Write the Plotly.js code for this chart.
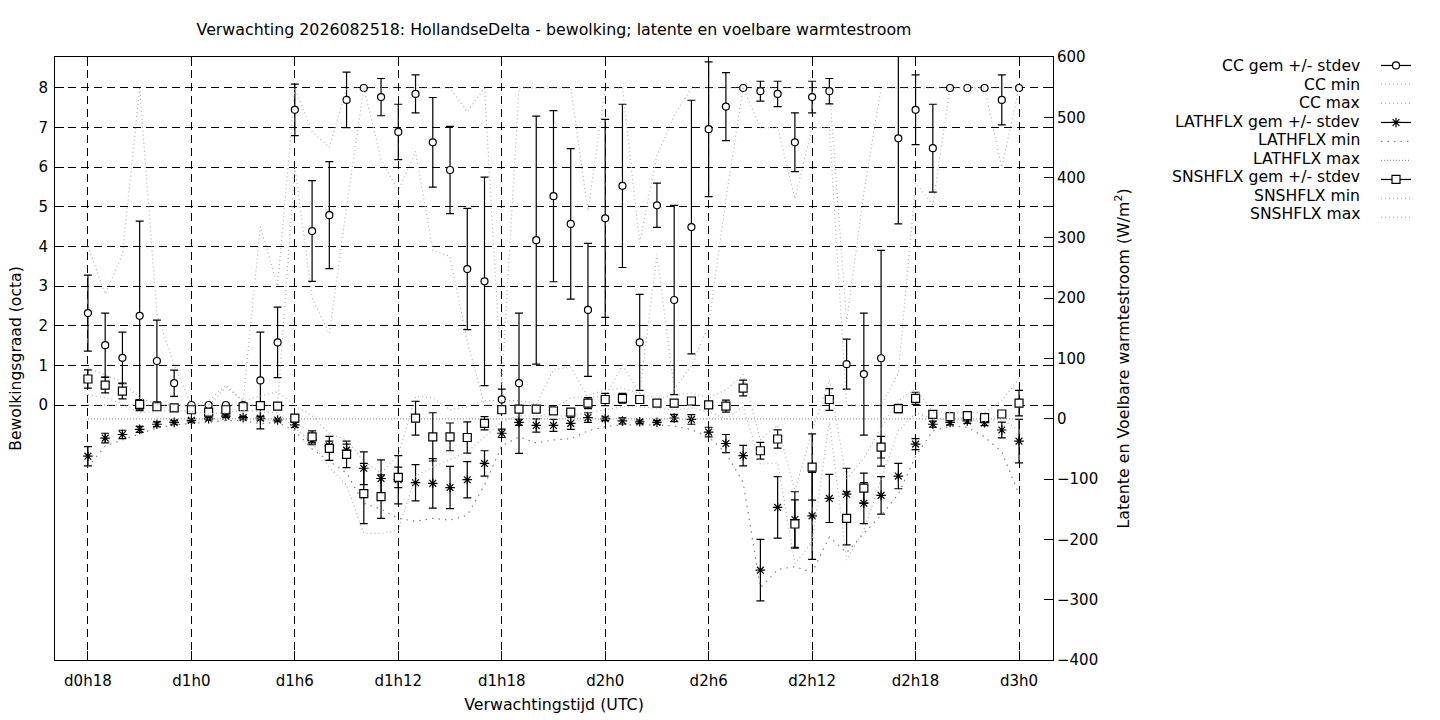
<!DOCTYPE html>
<html>
<head>
<meta charset="utf-8">
<script src="https://cdn.plot.ly/plotly-3.0.1.min.js"></script>
<style>
  html, body { margin: 0; padding: 0; background: #fff; }
  #chart { width: 1440px; height: 720px; }
</style>
</head>
<body>
<div id="chart"></div>
<script>
// forecast hours (d0h18 .. d3h0)
const hours = [18,19,20,21,22,23,24,25,26,27,28,29,30,31,32,33,34,35,36,37,38,39,40,41,42,43,44,45,
  46,47,48,49,50,51,52,53,54,55,56,57,58,59,60,61,62,63,64,65,66,67,68,69,70,71,72];
const xTicks = [18,24,30,36,42,48,54,60,66,72];
const xTickText = ['d0h18','d1h0','d1h6','d1h12','d1h18','d2h0','d2h6','d2h12','d2h18','d3h0'];
const ccTicks = [0,1,2,3,4,5,6,7,8];
const fluxTicks = [-400,-300,-200,-100,0,100,200,300,400,500,600];

// bewolking (octa)
const ccMean = [2.32,1.51,1.19,2.25,1.11,0.55,0,0,0,0,0.62,1.58,
  7.45,4.39,4.79,7.70,8.00,7.77,6.89,7.85,6.63,5.93,3.43,3.12,
  0.14,0.55,4.16,5.27,4.57,2.40,4.71,5.53,1.58,5.04,2.65,4.49,
  6.96,7.53,8.00,7.92,7.85,6.63,7.77,7.92,1.03,0.78,1.18,6.73,
  7.45,6.48,8.00,8.00,8.00,7.70,8.00];
const ccSd = [0.96,0.81,0.65,2.39,1.03,0.33,0,0,0,0,1.22,0.89,
  0.65,1.27,1.35,0.70,0,0.47,0.70,0.48,1.13,1.10,1.53,2.63,
  0.26,1.77,3.13,2.16,1.90,1.68,2.50,2.06,1.21,0.56,2.39,3.20,
  1.70,0.86,0,0.25,0.32,0.74,0.40,0.32,0.63,1.54,2.72,2.16,
  0.88,1.11,0,0,0,0.63,0];
const ccMin = [0,0,0,0,0,0,0,0,0,0,0,0,
  6.0,2.7,1.8,5.0,8,6.2,5.4,6.4,3.9,3.75,1.6,0,
  0,0,0,0.9,0.95,0.2,0.2,1.0,0.3,3.8,0.4,1.0,
  2.0,5.2,8,7.0,7.0,5.2,7.0,7.0,0,0,0,0.8,
  5.6,5.05,8,8,8,6.0,8];
const ccMax = [4.0,2.8,3.8,8,2.3,1.0,0,0.1,0.5,0.1,4.5,3.0,
  8,6.9,6.5,8,8,8,8,8,8,8,7.4,8,
  0.5,8,8,8,8,4.9,8,8,4.1,6.3,7.3,8,
  8,8,8,8,8,8,8,8,2.1,5.35,8,8,
  8,8,8,8,8,8,8];

// latente warmtestroom (W/m2)
const latMean = [-62,-32,-26,-17.5,-9,-6,-2.5,0,4.5,2,1,-2,
  -10,-35,-45,-52,-82,-99,-101,-106,-107,-114,-101,-74,
  -24,-6,-11,-11,-7.5,2,0,-3.6,-5,-6,1.3,-1,
  -22,-41,-61,-251,-147,-167,-161,-132,-125,-140,-127,-95,
  -42,-9,-6,-3.6,-6.4,-18.6,-37];
const latSd = [16,8,7,5,4,3,3,2,2,2,3,2,
  4,8,8,10,27,31,40,30,41,35,30,21,
  7,5,11,10,10,8,3,5,3,3,6,8,
  8,15,17,51,51,46,72,40,43,34,31,21,
  9,5,4,4,5,13,36];
const latMin = [-80,-45,-35,-25,-15,-10,-8,-5,-3,-3,-8,-6,
  -20,-50,-70,-90,-140,-150,-165,-170,-165,-168,-160,-110,
  -45,-30,-40,-35,-33,-20,-13,-10,-10,-10,-12,-18,
  -30,-57,-105,-280,-250,-245,-255,-196,-222,-190,-160,-125,
  -62,-20,-12,-14,-30,-55,-125];
const latMax = [0,0,0,0,0,0,0,0,0,0,0,0,
  0,0,0,0,0,0,0,0,0,0,0,0,
  0,0,0,0,0,0,0,0,0,0,0,0,
  0,0,0,0,0,0,0,0,0,0,0,0,
  0,0,0,0,0,0,0];

// voelbare warmtestroom (W/m2)
const snsMean = [66,56,46,24,20,18,15,11,15,20,22,21,
  1,-30,-49,-59,-124,-129,-97,1,-30,-30,-31,-7.5,
  15,16,16,13,11,26,32,34,32,26,26,29.5,
  23,21,51,-53,-33.5,-174.5,-80,32,-165,-115,-47,17,
  34,7.4,3.5,5.2,2,8,26];
const snsSd = [15,13,13,8,4,2,2,2,3,3,5,5,
  5,10,20,22,50,36,17,28,40,23,26,11,
  5,5,5,3,3,9,10,8,6,3,6,5,
  5,10,13,14,15,40,55,18,44,25,18,7,
  10,3,3,3,5,3,21];
const snsMin = [40,35,25,10,12,14,12,8,10,14,12,10,
  -15,-40,-80,-110,-190,-190,-185,-95,-80,-68,-55,-30,
  -5,5,5,5,5,10,15,20,20,18,15,18,
  12,0,20,-75,-73,-240,-205,-5,-234,-185,-100,-20,
  10,0,-2,-2,-5,0,-20];
const snsMax = [85,72,62,34,25,22,20,22,52,30,38,45,
  22,5,-25,-35,-70,-90,-60,37,35,15,20,30,
  30,30,25,18,34,39,48,51,42,34,39,43,
  35,48,73,-35,-10,-120,-20,64,-100,-65,-15,30,
  50,12,10,10,10,30,67];

const legendText = ['CC gem +/- stdev','CC min','CC max',
  'LATHFLX gem +/- stdev','LATHFLX min','LATHFLX max',
  'SNSHFLX gem +/- stdev','SNSHFLX min','SNSHFLX max'];

const dotGrey = '#b0b0b0';
const errBar = {type: 'data', color: 'black', thickness: 1.2, width: 4};

function meanTrace(y, sd, axis, symbol, size, fill) {
  return {
    x: hours, y: y, yaxis: axis, type: 'scatter', mode: 'markers', showlegend: false,
    marker: {symbol: symbol, size: size, color: fill, line: {color: 'black', width: 1.2}},
    error_y: Object.assign({array: sd}, errBar)
  };
}
function keyTrace(symbol, size, fill) {
  // legend sample only, no data
  return {
    x: [null], y: [null], type: 'scatter', mode: 'lines+markers', name: ' ',
    line: {color: 'black', width: 1.2},
    marker: {symbol: symbol, size: size, color: fill, line: {color: 'black', width: 1.2}}
  };
}
function rangeTrace(y, axis, color, dash) {
  return {
    x: hours, y: y, yaxis: axis, type: 'scatter', mode: 'lines', name: ' ',
    line: {color: color, width: 1.2, dash: dash}
  };
}

const data = [
  meanTrace(ccMean, ccSd, 'y', 'circle', 7, 'white'),
  keyTrace('circle', 7, 'white'),
  rangeTrace(ccMin, 'y', dotGrey, '1px,3px'),
  rangeTrace(ccMax, 'y', dotGrey, '1px,3px'),
  meanTrace(latMean, latSd, 'y2', 'asterisk-open', 8, 'black'),
  keyTrace('asterisk-open', 8, 'black'),
  rangeTrace(latMin, 'y2', '#808080', '1.5px,5px'),
  rangeTrace(latMax, 'y2', '#999999', '1px,2px'),
  meanTrace(snsMean, snsSd, 'y2', 'square', 8, 'white'),
  keyTrace('square', 8, 'white'),
  rangeTrace(snsMin, 'y2', dotGrey, '1px,3px'),
  rangeTrace(snsMax, 'y2', dotGrey, '1px,3px')
];

// gnuplot-style key: text right aligned, sample to the right of it
const rowTop = (660 - 66) / 603;
const rowStep = 18.5 / 603;
const annotations = legendText.map((t, i) => ({
  text: t, xref: 'paper', yref: 'paper', x: (1362 - 55) / 998, y: rowTop - i * rowStep,
  xanchor: 'right', yanchor: 'middle', showarrow: false, font: {size: 15.6}
}));

const gridDash = '8px,5px';
const layout = {
  width: 1440, height: 720,
  margin: {l: 55, r: 387, t: 57, b: 60, autoexpand: false},
  paper_bgcolor: 'white', plot_bgcolor: 'white',
  font: {family: 'DejaVu Sans, sans-serif', size: 15, color: 'black'},
  title: {
    text: 'Verwachting 2026082518: HollandseDelta - bewolking; latente en voelbare warmtestroom',
    xref: 'paper', x: 0.5, yref: 'container', y: 1 - 29 / 720, yanchor: 'middle', font: {size: 15.8}
  },
  xaxis: {
    range: [16.09, 73.97], tickvals: xTicks, ticktext: xTickText,
    ticks: 'inside', ticklen: 9, tickcolor: 'black', ticklabelstandoff: 7,
    showline: true, linecolor: 'black', mirror: 'ticks',
    showgrid: true, gridcolor: 'black', griddash: gridDash, gridwidth: 1, zeroline: false,
    title: {text: 'Verwachtingstijd (UTC)', standoff: 9, font: {size: 15.8}}
  },
  yaxis: {
    range: [-6.435, 8.782], tickvals: ccTicks,
    ticks: 'inside', ticklen: 9, tickcolor: 'black', ticklabelstandoff: 3,
    showline: true, linecolor: 'black', mirror: 'ticks',
    showgrid: true, gridcolor: 'black', griddash: gridDash, gridwidth: 1, zeroline: false,
    title: {text: 'Bewolkingsgraad (octa)', standoff: 12, font: {size: 15.6}}
  },
  yaxis2: {
    overlaying: 'y', side: 'right', range: [-400, 600], tickvals: fluxTicks,
    ticks: 'inside', ticklen: 9, tickcolor: 'black', showline: true, linecolor: 'black',
    showgrid: false, zeroline: false,
    title: {text: 'Latente en Voelbare warmtestroom (W/m<sup>2</sup>)', standoff: 20, font: {size: 15.8}}
  },
  showlegend: true,
  legend: {
    x: (1376 - 55) / 998, y: 1.01, xanchor: 'left', yanchor: 'top',
    font: {size: 11}, bgcolor: 'rgba(0,0,0,0)', tracegroupgap: 0
  },
  annotations: annotations,
  hovermode: false
};

Plotly.newPlot('chart', data, layout, {displayModeBar: false, staticPlot: true});
</script>
</body>
</html>
